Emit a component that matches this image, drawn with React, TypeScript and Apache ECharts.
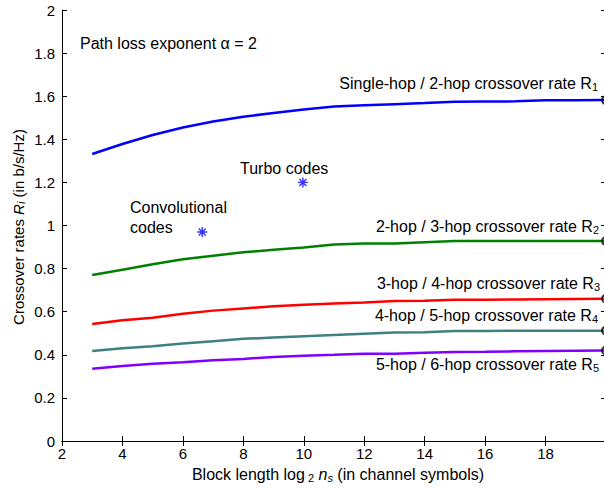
import React, { useEffect, useRef } from "react";
import * as echarts from "echarts";

const blockLength = [3, 4, 5, 6, 7, 8, 9, 10, 11, 12, 13, 14, 15, 16, 17, 18, 19, 20];
const rate1 = [1.332, 1.378, 1.42, 1.455, 1.483, 1.505, 1.522, 1.538, 1.552, 1.558, 1.563, 1.568, 1.574, 1.575, 1.576, 1.581, 1.581, 1.582];
const rate2 = [0.77, 0.795, 0.82, 0.843, 0.86, 0.876, 0.887, 0.898, 0.912, 0.916, 0.916, 0.922, 0.928, 0.928, 0.928, 0.928, 0.928, 0.928];
const rate3 = [0.543, 0.56, 0.572, 0.59, 0.605, 0.615, 0.625, 0.632, 0.638, 0.643, 0.65, 0.651, 0.656, 0.656, 0.657, 0.658, 0.659, 0.66];
const rate4 = [0.418, 0.43, 0.44, 0.452, 0.463, 0.474, 0.48, 0.486, 0.492, 0.498, 0.503, 0.505, 0.51, 0.511, 0.512, 0.512, 0.512, 0.512];
const rate5 = [0.335, 0.348, 0.358, 0.365, 0.375, 0.381, 0.39, 0.396, 0.4, 0.405, 0.405, 0.41, 0.413, 0.414, 0.416, 0.418, 0.419, 0.42];
const convolutionalCode = [6.64, 0.97];
const turboCode = [9.97, 1.2];
const rateNames = [
  "Single-hop / 2-hop crossover rate R",
  "2-hop / 3-hop crossover rate R",
  "3-hop / 4-hop crossover rate R",
  "4-hop / 5-hop crossover rate R",
  "5-hop / 6-hop crossover rate R",
];
const rateSubs = ["1", "2", "3", "4", "5"];

const FONT = "'Liberation Sans', Arial, Helvetica, sans-serif";
const colors = ["#0000ff", "#008000", "#ff0000", "#408080", "#8000ff"];
const labelPos = [
  [598, 83],
  [599, 226],
  [600, 283],
  [598, 315],
  [599, 364],
];

const makeRich = (size: number) => ({
  a: { fontSize: size, fontFamily: FONT, color: "#000", lineHeight: size + 2 },
  s: { fontSize: 11, fontFamily: FONT, color: "#000", lineHeight: 4, verticalAlign: "bottom" },
  i: { fontSize: size, fontFamily: FONT, color: "#000", fontStyle: "italic", lineHeight: size + 2 },
  si: { fontSize: 11, fontFamily: FONT, color: "#000", fontStyle: "italic", lineHeight: 4, verticalAlign: "bottom" },
});

export default function App() {
  const ref = useRef<HTMLDivElement>(null);
  useEffect(() => {
    if (!ref.current) return;
    const chart = echarts.init(ref.current, null, { renderer: "svg" });
    const rates = [rate1, rate2, rate3, rate4, rate5];
    const lineSeries = rates.map((r, k) => ({
      type: "line",
      xAxisIndex: 0,
      yAxisIndex: 0,
      data: blockLength.map((x, i) => [x, r[i]]),
      showSymbol: false,
      lineStyle: { color: colors[k], width: 2.5 },
      z: 3,
    }));
    const ends = rates.map((r) => [blockLength[blockLength.length - 1], r[r.length - 1]]);
    const axisCommon = {
      axisLine: { show: true, lineStyle: { color: "#000", width: 1 } },
      axisTick: { show: true, inside: true, length: 5, lineStyle: { color: "#000" } },
      splitLine: { show: false },
    };
    chart.setOption({
      animation: false,
      backgroundColor: "#fff",
      grid: { left: 62, top: 10, right: -2, bottom: 47, containLabel: false, outerBoundsMode: "none" },
      xAxis: [
        {
          type: "value", min: 2, max: 20, interval: 2, position: "bottom",
          ...axisCommon,
          axisLabel: {
            color: "#000", fontSize: 15, fontFamily: FONT, margin: 5,
            formatter: (v: number) => (v === 20 ? "" : String(v)),
          },
        },
        {
          type: "value", min: 2, max: 20, interval: 2, position: "top",
          ...axisCommon, axisLabel: { show: false },
        },
      ],
      yAxis: [
        {
          type: "value", min: 0, max: 2, interval: 0.2, position: "left",
          ...axisCommon,
          axisLabel: { color: "#000", fontSize: 15, fontFamily: FONT, margin: 7 },
        },
        {
          type: "value", min: 0, max: 2, interval: 0.2, position: "right",
          ...axisCommon, axisLabel: { show: false },
        },
      ],
      series: [
        ...lineSeries,
        {
          type: "scatter",
          data: ends,
          symbol: "circle",
          symbolSize: 8,
          itemStyle: { color: "none", borderColor: "#000", borderWidth: 2 },
          z: 4,
          clip: false,
        },
        {
          type: "scatter",
          data: [convolutionalCode, turboCode],
          symbol: "path://M5,0 L5,10 M0,5 L10,5 M1.5,1.5 L8.5,8.5 M1.5,8.5 L8.5,1.5",
          symbolSize: 10,
          itemStyle: { color: "none", borderColor: "#0000ff", borderWidth: 1.4 },
          z: 4,
        },
      ],
      graphic: [
        {
          type: "text", x: 80, y: 43,
          style: { text: "Path loss exponent α = 2", font: `16px ${FONT}`, fill: "#000", textVerticalAlign: "middle" },
        },
        {
          type: "text", x: 240, y: 168,
          style: { text: "Turbo codes", font: `16px ${FONT}`, fill: "#000", textVerticalAlign: "middle" },
        },
        {
          type: "text", x: 130, y: 217,
          style: { text: "Convolutional\ncodes", font: `16px ${FONT}`, fill: "#000", textVerticalAlign: "middle", lineHeight: 20 },
        },
        ...rateNames.map((name, k) => ({
          type: "text", x: labelPos[k][0], y: labelPos[k][1],
          style: {
            text: `{a|${name}}{s|${rateSubs[k]}}`,
            rich: makeRich(16),
            textAlign: "right",
            textVerticalAlign: "middle",
          },
        })),
        {
          type: "text", x: 338, y: 474,
          style: {
            text: "{a|Block length log}{s| 2}{i| n}{si|s}{a| (in channel symbols)}",
            rich: makeRich(16),
            textAlign: "center",
            textVerticalAlign: "middle",
          },
        },
        {
          type: "text", x: 18, y: 227, rotation: Math.PI / 2,
          style: {
            text: "{a|Crossover rates }{i|R}{si|i}{a| (in b/s/Hz)}",
            rich: makeRich(15),
            textAlign: "center",
            textVerticalAlign: "middle",
          },
        },
      ],
    });
    return () => chart.dispose();
  }, []);
  return (
    <div
      ref={ref}
      style={{ position: "fixed", left: 0, top: 0, width: 604, height: 488, background: "#fff" }}
    />
  );
}
